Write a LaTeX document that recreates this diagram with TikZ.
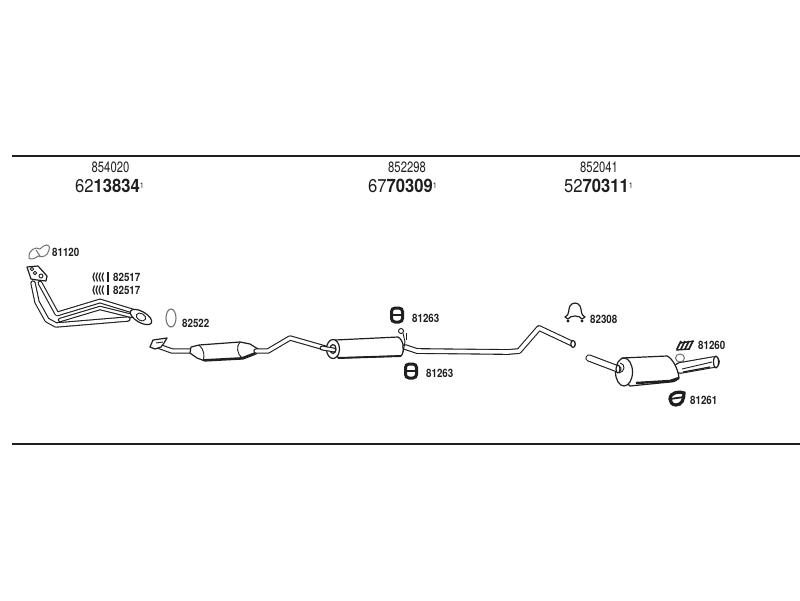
\documentclass[tikz,border=0pt]{standalone}
\usepackage{fontspec}
\setmainfont{TeX Gyre Heros}
\usetikzlibrary{calc}
\definecolor{ink}{gray}{0.12}
\tikzset{
 x=1pt,y=-1pt,
 rule/.style={line width=2pt,draw=ink},
 num/.style={inner sep=0pt,text=ink,font=\fontsize{15}{15}\selectfont,xscale=.75},
 big/.style={inner sep=0pt,text=ink,font=\fontsize{18.5}{18.5}\selectfont,xscale=.9},
 lab/.style={inner sep=0pt,anchor=west,text=ink,font=\bfseries\fontsize{11.5}{11.5}\selectfont,xscale=.85},
 outl/.style={draw=ink,line width=1.2pt,line join=round,fill=white},
 thinl/.style={draw=ink,line width=.9pt,line join=round},
 grayl/.style={draw=black!55,line width=1pt},
}
\newcommand{\pipe}[2]{\draw[ink,line width=#1+2.2pt,line join=round,line cap=round] #2;\draw[white,line width=#1,line join=round,line cap=round] #2;}
\newcommand{\rubber}[2]{\begin{scope}[shift={(#1,#2)}]\draw[ink,line width=3pt,rounded corners=3.5pt] (-5.5,-7) rectangle (5.5,7);\draw[ink,line width=2pt] (-5.5,0)--(5.5,0);\end{scope}}
\begin{document}
\begin{tikzpicture}
\useasboundingbox (0,0) rectangle (800,600);
\fill[white] (0,0) rectangle (800,600);
\draw[rule] (12,155.5)--(800,155.5);
\draw[rule] (12,444)--(800,444);
% header labels
\node[num] (a1) at (110.5,167) {854020};
\node[num] (a2) at (407,167) {852298};
\node[num] (a3) at (599,167) {852041};
\node[big,anchor=west] (b1) at (75,186) {62\textbf{13834}\raisebox{4pt}{\fontsize{8}{8}\selectfont 1}};
\node[big,anchor=west] (b2) at (368,186) {67\textbf{70309}\raisebox{4pt}{\fontsize{8}{8}\selectfont 1}};
\node[big,anchor=west] (b3) at (564,186) {52\textbf{70311}\raisebox{4pt}{\fontsize{8}{8}\selectfont 1}};
% part labels
\node[lab] (l1) at (52,252) {81120};
\node[lab] (l2) at (113,277) {82517};
\node[lab] (l3) at (113,290) {82517};
\node[lab] (l4) at (182,323) {82522};
\node[lab] (l5) at (412,318) {81263};
\node[lab] (l6) at (426,373) {81263};
\node[lab] (l7) at (590,319) {82308};
\node[lab] (l8) at (698,345) {81260};
\node[lab] (l9) at (690,400) {81261};
% gasket 81120
\draw[grayl] (29,258) .. controls (28,250) and (36,246) .. (40,249) .. controls (44,244) and (51,243) .. (49,250) .. controls (48,256) and (42,258) .. (38,256) .. controls (35,259) and (30,260) .. (29,258) -- cycle;
\draw[grayl] (36,250) -- (40,256);
% springs 82517
\foreach \y in {277,290}{
 \foreach \dx in {0,3,6,9}{\draw[ink,line width=1.2pt] (94.5+\dx,\y-4.5)--(93+\dx,\y)--(94.5+\dx,\y+4.5);}
 \draw[ink,line width=1.3pt] (108,\y-5)--(108,\y+5);
}
% front pipes
\pipe{3.2pt}{(33,283)--(37,302)--(47,320)--(56,325)--(128,319)}
\pipe{2.6pt}{(40,283)--(57,314)--(100,301)--(136,312)}
\pipe{2.2pt}{(60,320)--(100,308)--(132,316)}
% manifold flange
\draw[outl] (27,267)--(38,266)--(47,276)--(46,281)--(37,280)--(31,279)--cycle;
\draw[thinl] (32,269) circle (1.7);\draw[thinl] (41,276) circle (2);
\draw[thinl] (35,273) circle (1.7);
% outlet flange
\draw[outl,rotate around={-30:(141,317)}] (141,317) ellipse (12 and 5.5);
\draw[thinl,rotate around={-30:(141,317)}] (141,317) ellipse (5 and 3.5);
% gasket 82522
\draw[grayl,line width=1.1pt] (171,318) ellipse (5 and 9);
% catalyst section
\pipe{3.2pt}{(158,346)--(172,351)--(192,351)}
\draw[outl] (150,347)--(153,340)--(167,338)--(164,343)--(161,347)--(155,349)--cycle;
\draw[thinl] (156,343)--(163,342);
\draw[outl] (191,347) -- (199,345) -- (240,342) -- (250,344) -- (258,349) -- (256,354) -- (243,359) -- (205,361) -- (197,358) -- (190,353) -- cycle;
\draw[ink,line width=1.8pt] (204,360)--(242,358)--(255,353);
\draw[thinl] (199,345) .. controls (204,349) and (205,356) .. (203,361);
\draw[thinl] (240,342) .. controls (236,346) and (237,354) .. (242,358);
% centre pipe and muffler
\pipe{3.2pt}{(256,351)--(268,351)--(290,338)--(332,350)}
\draw[outl] (335,340) -- (398,337) .. controls (404,340) and (405,352) .. (401,356) -- (338,358) -- cycle;
\draw[ink,line width=1.9pt] (338,358)--(401,356);
\draw[outl] (333,349) ellipse (6.5 and 9.5);
\draw[outl] (333,349) ellipse (3 and 4.5);
\pipe{2.6pt}{(322,348)--(334,350)}
\pipe{3.6pt}{(405,347)--(417,351)--(508,352)--(519,351)--(539,328)--(573,344)}
\draw[outl] (573,344) ellipse (2.2 and 3.5);
% hanger on muffler
\draw[thinl] (401,331) circle (2.5);
\draw[thinl] (403,333)--(405,342)--(403,352);
\draw[thinl] (406,333)--(406,340);
% rubbers
\rubber{397}{315}
\rubber{411}{371}
% clamp 82308
\draw[outl] (565,317) .. controls (570,315) and (568,309) .. (570,306) .. controls (572,302) and (578,302) .. (580,306) .. controls (582,309) and (580,315) .. (585,317) -- (582,319) .. controls (580,315) and (570,315) .. (568,319) -- cycle;
\fill[ink] (568,321) circle (1.7) (582,321) circle (1.7);
% rear section
\draw[grayl,fill=white] (680,358) ellipse (4.5 and 4);
\pipe{9.5pt}{(680,368)--(714,362)}
\draw[outl] (716,362) ellipse (2.5 and 6);
\draw[thinl] (682,369)--(712,362);
\draw[ink,line width=1.2pt] (683,372)--(710,367);
\draw[outl] (622,358) -- (667,356) .. controls (672,358) and (678,368) .. (679,378) .. controls (676,381) and (674,382) .. (670,382) -- (630,386) -- (616,372) -- cycle;
\draw[ink,line width=2.4pt] (636,383)--(670,381)--(679,378);
\draw[outl] (624,372) ellipse (8.5 and 14);
\pipe{5pt}{(589,358)--(618,369)}
\draw[outl] (618,369) ellipse (2 and 4);
\draw[thinl] (620,363) .. controls (626,364) and (625,372) .. (619,373);
% rubber 81260
\draw[ink,line width=1.7pt] (677,349)--(681,341) (681,349)--(685,341) (685,349)--(689,341) (689,349)--(693,341);
\draw[ink,line width=1.4pt] (676,350)--(690,349) (680,343)--(694,341);
% rubber 81261
\draw[ink,line width=3.2pt] (670,399) .. controls (670,392) and (680,391) .. (684,393) .. controls (684,399) and (682,405) .. (676,405) .. controls (672,405) and (670,402) .. (670,399) -- cycle;
\draw[ink,line width=1.8pt] (670,399)--(684,397);
\end{tikzpicture}
\end{document}
